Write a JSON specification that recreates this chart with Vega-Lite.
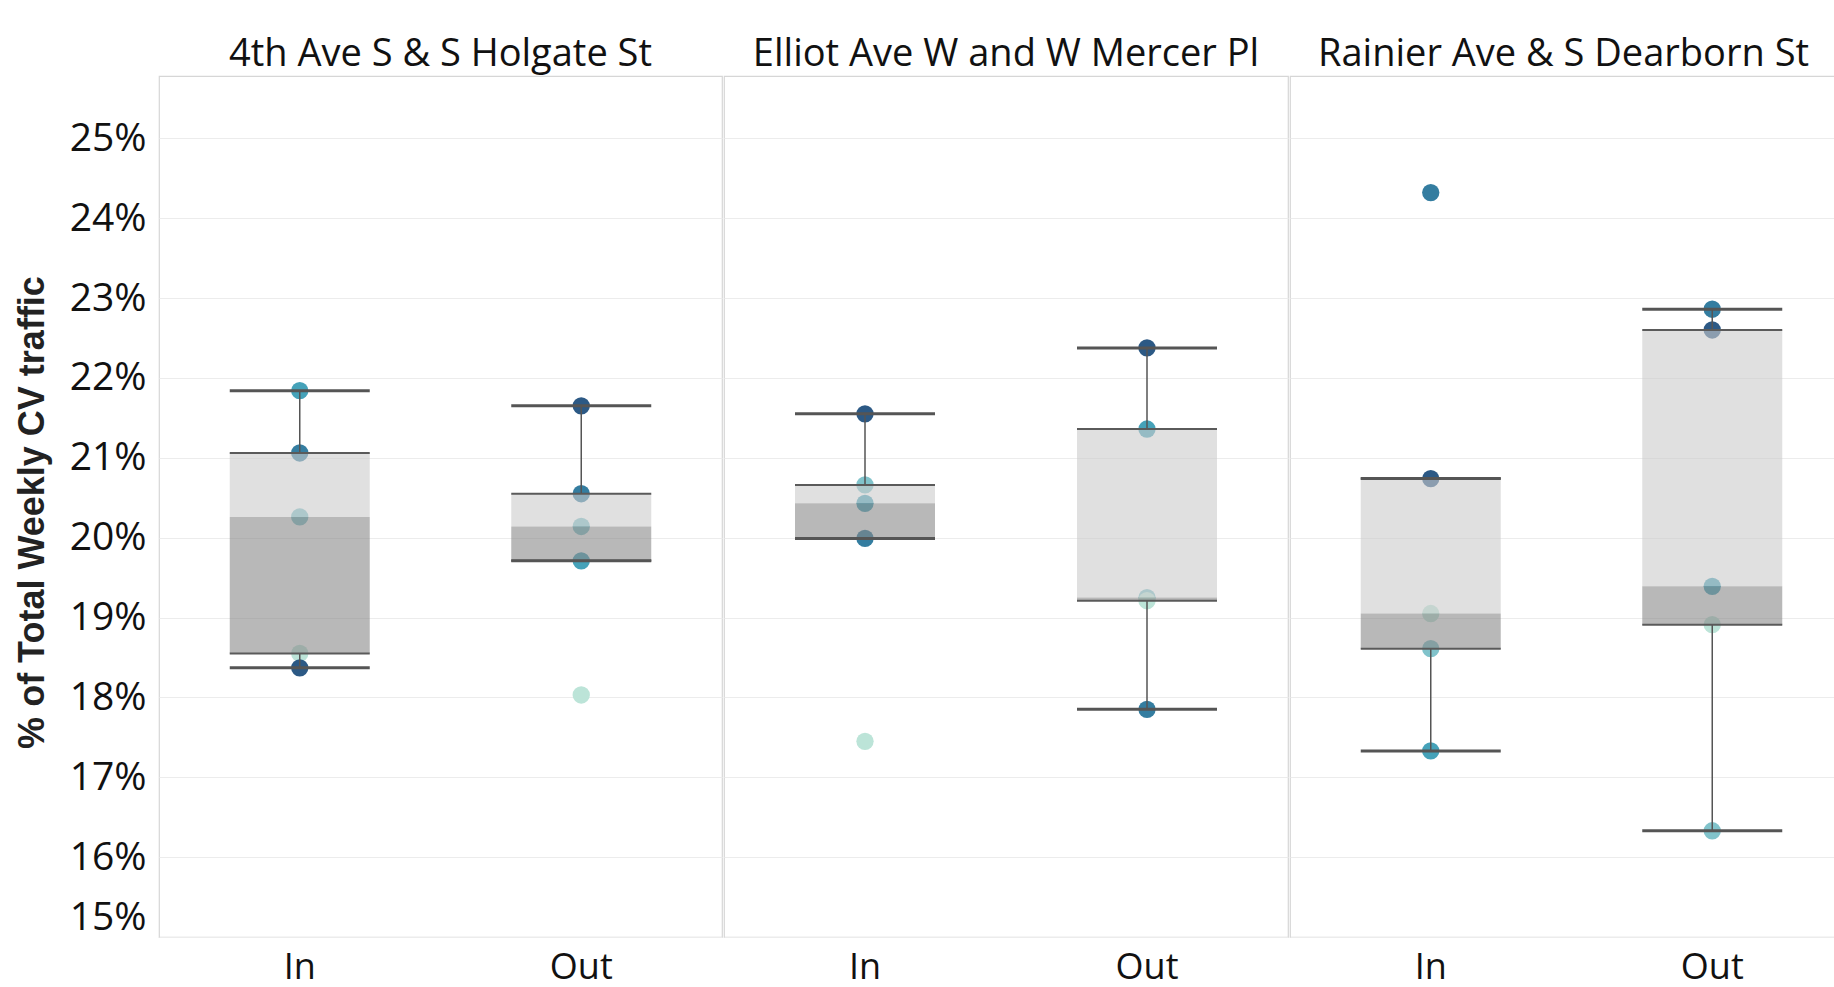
{
  "$schema": "https://vega.github.io/schema/vega-lite/v6.json",
  "background": "white",
  "padding": {"left": 13, "top": 35, "right": 0, "bottom": 0},
  "datasets": {
    "points": [
      {"site": "4th Ave S & S Holgate St", "dir": "In", "pct": 21.84, "week": 3},
      {"site": "4th Ave S & S Holgate St", "dir": "In", "pct": 21.06, "week": 4},
      {"site": "4th Ave S & S Holgate St", "dir": "In", "pct": 20.26, "week": 2},
      {"site": "4th Ave S & S Holgate St", "dir": "In", "pct": 18.55, "week": 1},
      {"site": "4th Ave S & S Holgate St", "dir": "In", "pct": 18.37, "week": 5},
      {"site": "4th Ave S & S Holgate St", "dir": "Out", "pct": 21.65, "week": 5},
      {"site": "4th Ave S & S Holgate St", "dir": "Out", "pct": 20.55, "week": 4},
      {"site": "4th Ave S & S Holgate St", "dir": "Out", "pct": 20.14, "week": 2},
      {"site": "4th Ave S & S Holgate St", "dir": "Out", "pct": 19.71, "week": 3},
      {"site": "4th Ave S & S Holgate St", "dir": "Out", "pct": 18.03, "week": 1},
      {"site": "Elliot Ave W and W Mercer Pl", "dir": "In", "pct": 21.55, "week": 5},
      {"site": "Elliot Ave W and W Mercer Pl", "dir": "In", "pct": 20.66, "week": 2},
      {"site": "Elliot Ave W and W Mercer Pl", "dir": "In", "pct": 20.43, "week": 3},
      {"site": "Elliot Ave W and W Mercer Pl", "dir": "In", "pct": 19.99, "week": 4},
      {"site": "Elliot Ave W and W Mercer Pl", "dir": "In", "pct": 17.45, "week": 1},
      {"site": "Elliot Ave W and W Mercer Pl", "dir": "Out", "pct": 22.375, "week": 5},
      {"site": "Elliot Ave W and W Mercer Pl", "dir": "Out", "pct": 21.36, "week": 3},
      {"site": "Elliot Ave W and W Mercer Pl", "dir": "Out", "pct": 19.25, "week": 2},
      {"site": "Elliot Ave W and W Mercer Pl", "dir": "Out", "pct": 19.21, "week": 1},
      {"site": "Elliot Ave W and W Mercer Pl", "dir": "Out", "pct": 17.85, "week": 4},
      {"site": "Rainier Ave & S Dearborn St", "dir": "In", "pct": 24.32, "week": 4},
      {"site": "Rainier Ave & S Dearborn St", "dir": "In", "pct": 20.74, "week": 5},
      {"site": "Rainier Ave & S Dearborn St", "dir": "In", "pct": 19.05, "week": 1},
      {"site": "Rainier Ave & S Dearborn St", "dir": "In", "pct": 18.61, "week": 2},
      {"site": "Rainier Ave & S Dearborn St", "dir": "In", "pct": 17.33, "week": 3},
      {"site": "Rainier Ave & S Dearborn St", "dir": "Out", "pct": 22.86, "week": 4},
      {"site": "Rainier Ave & S Dearborn St", "dir": "Out", "pct": 22.6, "week": 5},
      {"site": "Rainier Ave & S Dearborn St", "dir": "Out", "pct": 19.39, "week": 3},
      {"site": "Rainier Ave & S Dearborn St", "dir": "Out", "pct": 18.91, "week": 1},
      {"site": "Rainier Ave & S Dearborn St", "dir": "Out", "pct": 16.33, "week": 2}
    ],
    "boxes": [
      {"site": "4th Ave S & S Holgate St", "dir": "In", "lo": 18.37, "q1": 18.55, "med": 20.26, "q3": 21.06, "hi": 21.84},
      {"site": "4th Ave S & S Holgate St", "dir": "Out", "lo": 19.71, "q1": 19.71, "med": 20.14, "q3": 20.55, "hi": 21.65},
      {"site": "Elliot Ave W and W Mercer Pl", "dir": "In", "lo": 19.99, "q1": 19.99, "med": 20.43, "q3": 20.66, "hi": 21.55},
      {"site": "Elliot Ave W and W Mercer Pl", "dir": "Out", "lo": 17.85, "q1": 19.21, "med": 19.25, "q3": 21.36, "hi": 22.375},
      {"site": "Rainier Ave & S Dearborn St", "dir": "In", "lo": 17.33, "q1": 18.61, "med": 19.05, "q3": 20.74, "hi": 20.74},
      {"site": "Rainier Ave & S Dearborn St", "dir": "Out", "lo": 16.33, "q1": 18.91, "med": 19.39, "q3": 22.6, "hi": 22.86}
    ]
  },
  "config": {
    "font": "Open Sans",
    "view": {"stroke": "#d6d6d6", "strokeWidth": 1.2},
    "axisY": {
      "grid": true, "gridColor": "#ececec", "gridWidth": 1,
      "domain": false, "ticks": false, "tickCount": 11,
      "labelExpr": "datum.value + '%'",
      "labelFont": "Open Sans", "labelFontSize": 39, "labelColor": "#111",
      "labelPadding": 13, "labelFlush": true,
      "titleFont": "Liberation Sans", "titleFontSize": 36, "titleFontWeight": "bold", "titleColor": "#222",
      "titlePadding": 18
    },
    "axisX": {
      "grid": false, "domain": false, "ticks": false, "labelAngle": 0,
      "labelFont": "Open Sans", "labelFontSize": 36, "labelColor": "#111", "labelPadding": 13, "title": null
    },
    "title": {"font": "Open Sans", "fontSize": 38, "fontWeight": "normal", "color": "#111", "anchor": "middle", "offset": 2, "baseline": "alphabetic"}
  },
  "spacing": 0,
  "resolve": {"scale": {"x": "independent", "y": "independent"}},
  "hconcat": [
    {
      "width": 563, "height": 861,
      "title": "4th Ave S & S Holgate St",
      "encoding": {"x": {"field": "dir", "type": "nominal", "scale": {"domain": ["In", "Out"], "paddingInner": 0, "paddingOuter": 0}, "axis": {"title": null}}},
      "layer": [
        {"data": {"name": "points"}, "transform": [{"filter": "datum.site === '4th Ave S & S Holgate St'"}],
         "mark": {"type": "circle", "size": 300, "opacity": 1},
         "encoding": {
           "y": {"field": "pct", "type": "quantitative", "scale": {"domain": [15, 25.78], "nice": false, "zero": false}, "axis": {"title": "% of Total Weekly CV traffic", "titleY": 436}},
           "color": {"field": "week", "type": "quantitative", "scale": {"scheme": "tealblues", "domain": [1, 5]}, "legend": null}}},
        {"data": {"name": "boxes"}, "transform": [{"filter": "datum.site === '4th Ave S & S Holgate St'"}],
         "mark": {"type": "bar", "width": 140, "color": "#cbcbcb", "opacity": 0.6},
         "encoding": {"y": {"field": "q3", "type": "quantitative", "axis": {"title": "% of Total Weekly CV traffic", "titleY": 436}}, "y2": {"field": "med"}}},
        {"data": {"name": "boxes"}, "transform": [{"filter": "datum.site === '4th Ave S & S Holgate St'"}],
         "mark": {"type": "bar", "width": 140, "color": "#888888", "opacity": 0.6},
         "encoding": {"y": {"field": "med", "type": "quantitative", "axis": {"title": "% of Total Weekly CV traffic", "titleY": 436}}, "y2": {"field": "q1"}}},
        {"data": {"name": "boxes"}, "transform": [{"filter": "datum.site === '4th Ave S & S Holgate St'"}],
         "mark": {"type": "rule", "color": "#555555", "strokeWidth": 1.5},
         "encoding": {"y": {"field": "q3", "type": "quantitative", "axis": {"title": "% of Total Weekly CV traffic", "titleY": 436}}, "y2": {"field": "hi"}}},
        {"data": {"name": "boxes"}, "transform": [{"filter": "datum.site === '4th Ave S & S Holgate St'"}],
         "mark": {"type": "rule", "color": "#555555", "strokeWidth": 1.5},
         "encoding": {"y": {"field": "lo", "type": "quantitative", "axis": {"title": "% of Total Weekly CV traffic", "titleY": 436}}, "y2": {"field": "q1"}}},
        {"data": {"name": "boxes"}, "transform": [{"filter": "datum.site === '4th Ave S & S Holgate St'"}],
         "mark": {"type": "tick", "thickness": 2, "color": "#5a5a5a", "opacity": 1},
         "encoding": {"y": {"field": "q3", "type": "quantitative", "axis": {"title": "% of Total Weekly CV traffic", "titleY": 436}}, "size": {"value": 140}}},
        {"data": {"name": "boxes"}, "transform": [{"filter": "datum.site === '4th Ave S & S Holgate St'"}],
         "mark": {"type": "tick", "thickness": 2, "color": "#5a5a5a", "opacity": 1},
         "encoding": {"y": {"field": "q1", "type": "quantitative", "axis": {"title": "% of Total Weekly CV traffic", "titleY": 436}}, "size": {"value": 140}}},
        {"data": {"name": "boxes"}, "transform": [{"filter": "datum.site === '4th Ave S & S Holgate St'"}],
         "mark": {"type": "tick", "thickness": 3, "color": "#555555", "opacity": 1},
         "encoding": {"y": {"field": "hi", "type": "quantitative", "axis": {"title": "% of Total Weekly CV traffic", "titleY": 436}}, "size": {"value": 140}}},
        {"data": {"name": "boxes"}, "transform": [{"filter": "datum.site === '4th Ave S & S Holgate St'"}],
         "mark": {"type": "tick", "thickness": 3, "color": "#555555", "opacity": 1},
         "encoding": {"y": {"field": "lo", "type": "quantitative", "axis": {"title": "% of Total Weekly CV traffic", "titleY": 436}}, "size": {"value": 140}}}
      ]
    },
    {
      "width": 564, "height": 861,
      "title": "Elliot Ave W and W Mercer Pl",
      "encoding": {"x": {"field": "dir", "type": "nominal", "scale": {"domain": ["In", "Out"], "paddingInner": 0, "paddingOuter": 0}, "axis": {"title": null}}},
      "layer": [
        {"data": {"name": "points"}, "transform": [{"filter": "datum.site === 'Elliot Ave W and W Mercer Pl'"}],
         "mark": {"type": "circle", "size": 300, "opacity": 1},
         "encoding": {
           "y": {"field": "pct", "type": "quantitative", "scale": {"domain": [15, 25.78], "nice": false, "zero": false}, "axis": {"title": null, "labels": false, "minExtent": 0, "maxExtent": 0}},
           "color": {"field": "week", "type": "quantitative", "scale": {"scheme": "tealblues", "domain": [1, 5]}, "legend": null}}},
        {"data": {"name": "boxes"}, "transform": [{"filter": "datum.site === 'Elliot Ave W and W Mercer Pl'"}],
         "mark": {"type": "bar", "width": 140, "color": "#cbcbcb", "opacity": 0.6},
         "encoding": {"y": {"field": "q3", "type": "quantitative", "axis": {"title": null, "labels": false, "minExtent": 0, "maxExtent": 0}}, "y2": {"field": "med"}}},
        {"data": {"name": "boxes"}, "transform": [{"filter": "datum.site === 'Elliot Ave W and W Mercer Pl'"}],
         "mark": {"type": "bar", "width": 140, "color": "#888888", "opacity": 0.6},
         "encoding": {"y": {"field": "med", "type": "quantitative", "axis": {"title": null, "labels": false, "minExtent": 0, "maxExtent": 0}}, "y2": {"field": "q1"}}},
        {"data": {"name": "boxes"}, "transform": [{"filter": "datum.site === 'Elliot Ave W and W Mercer Pl'"}],
         "mark": {"type": "rule", "color": "#555555", "strokeWidth": 1.5},
         "encoding": {"y": {"field": "q3", "type": "quantitative", "axis": {"title": null, "labels": false, "minExtent": 0, "maxExtent": 0}}, "y2": {"field": "hi"}}},
        {"data": {"name": "boxes"}, "transform": [{"filter": "datum.site === 'Elliot Ave W and W Mercer Pl'"}],
         "mark": {"type": "rule", "color": "#555555", "strokeWidth": 1.5},
         "encoding": {"y": {"field": "lo", "type": "quantitative", "axis": {"title": null, "labels": false, "minExtent": 0, "maxExtent": 0}}, "y2": {"field": "q1"}}},
        {"data": {"name": "boxes"}, "transform": [{"filter": "datum.site === 'Elliot Ave W and W Mercer Pl'"}],
         "mark": {"type": "tick", "thickness": 2, "color": "#5a5a5a", "opacity": 1},
         "encoding": {"y": {"field": "q3", "type": "quantitative", "axis": {"title": null, "labels": false, "minExtent": 0, "maxExtent": 0}}, "size": {"value": 140}}},
        {"data": {"name": "boxes"}, "transform": [{"filter": "datum.site === 'Elliot Ave W and W Mercer Pl'"}],
         "mark": {"type": "tick", "thickness": 2, "color": "#5a5a5a", "opacity": 1},
         "encoding": {"y": {"field": "q1", "type": "quantitative", "axis": {"title": null, "labels": false, "minExtent": 0, "maxExtent": 0}}, "size": {"value": 140}}},
        {"data": {"name": "boxes"}, "transform": [{"filter": "datum.site === 'Elliot Ave W and W Mercer Pl'"}],
         "mark": {"type": "tick", "thickness": 3, "color": "#555555", "opacity": 1},
         "encoding": {"y": {"field": "hi", "type": "quantitative", "axis": {"title": null, "labels": false, "minExtent": 0, "maxExtent": 0}}, "size": {"value": 140}}},
        {"data": {"name": "boxes"}, "transform": [{"filter": "datum.site === 'Elliot Ave W and W Mercer Pl'"}],
         "mark": {"type": "tick", "thickness": 3, "color": "#555555", "opacity": 1},
         "encoding": {"y": {"field": "lo", "type": "quantitative", "axis": {"title": null, "labels": false, "minExtent": 0, "maxExtent": 0}}, "size": {"value": 140}}}
      ]
    },
    {
      "width": 547, "height": 861,
      "title": "Rainier Ave & S Dearborn St",
      "encoding": {"x": {"field": "dir", "type": "nominal", "scale": {"domain": ["In", "Out"], "range": [0, 563], "paddingInner": 0, "paddingOuter": 0}, "axis": {"title": null}}},
      "layer": [
        {"data": {"name": "points"}, "transform": [{"filter": "datum.site === 'Rainier Ave & S Dearborn St'"}],
         "mark": {"type": "circle", "size": 300, "opacity": 1},
         "encoding": {
           "y": {"field": "pct", "type": "quantitative", "scale": {"domain": [15, 25.78], "nice": false, "zero": false}, "axis": {"title": null, "labels": false, "minExtent": 0, "maxExtent": 0}},
           "color": {"field": "week", "type": "quantitative", "scale": {"scheme": "tealblues", "domain": [1, 5]}, "legend": null}}},
        {"data": {"name": "boxes"}, "transform": [{"filter": "datum.site === 'Rainier Ave & S Dearborn St'"}],
         "mark": {"type": "bar", "width": 140, "color": "#cbcbcb", "opacity": 0.6},
         "encoding": {"y": {"field": "q3", "type": "quantitative", "axis": {"title": null, "labels": false, "minExtent": 0, "maxExtent": 0}}, "y2": {"field": "med"}}},
        {"data": {"name": "boxes"}, "transform": [{"filter": "datum.site === 'Rainier Ave & S Dearborn St'"}],
         "mark": {"type": "bar", "width": 140, "color": "#888888", "opacity": 0.6},
         "encoding": {"y": {"field": "med", "type": "quantitative", "axis": {"title": null, "labels": false, "minExtent": 0, "maxExtent": 0}}, "y2": {"field": "q1"}}},
        {"data": {"name": "boxes"}, "transform": [{"filter": "datum.site === 'Rainier Ave & S Dearborn St'"}],
         "mark": {"type": "rule", "color": "#555555", "strokeWidth": 1.5},
         "encoding": {"y": {"field": "q3", "type": "quantitative", "axis": {"title": null, "labels": false, "minExtent": 0, "maxExtent": 0}}, "y2": {"field": "hi"}}},
        {"data": {"name": "boxes"}, "transform": [{"filter": "datum.site === 'Rainier Ave & S Dearborn St'"}],
         "mark": {"type": "rule", "color": "#555555", "strokeWidth": 1.5},
         "encoding": {"y": {"field": "lo", "type": "quantitative", "axis": {"title": null, "labels": false, "minExtent": 0, "maxExtent": 0}}, "y2": {"field": "q1"}}},
        {"data": {"name": "boxes"}, "transform": [{"filter": "datum.site === 'Rainier Ave & S Dearborn St'"}],
         "mark": {"type": "tick", "thickness": 2, "color": "#5a5a5a", "opacity": 1},
         "encoding": {"y": {"field": "q3", "type": "quantitative", "axis": {"title": null, "labels": false, "minExtent": 0, "maxExtent": 0}}, "size": {"value": 140}}},
        {"data": {"name": "boxes"}, "transform": [{"filter": "datum.site === 'Rainier Ave & S Dearborn St'"}],
         "mark": {"type": "tick", "thickness": 2, "color": "#5a5a5a", "opacity": 1},
         "encoding": {"y": {"field": "q1", "type": "quantitative", "axis": {"title": null, "labels": false, "minExtent": 0, "maxExtent": 0}}, "size": {"value": 140}}},
        {"data": {"name": "boxes"}, "transform": [{"filter": "datum.site === 'Rainier Ave & S Dearborn St'"}],
         "mark": {"type": "tick", "thickness": 3, "color": "#555555", "opacity": 1},
         "encoding": {"y": {"field": "hi", "type": "quantitative", "axis": {"title": null, "labels": false, "minExtent": 0, "maxExtent": 0}}, "size": {"value": 140}}},
        {"data": {"name": "boxes"}, "transform": [{"filter": "datum.site === 'Rainier Ave & S Dearborn St'"}],
         "mark": {"type": "tick", "thickness": 3, "color": "#555555", "opacity": 1},
         "encoding": {"y": {"field": "lo", "type": "quantitative", "axis": {"title": null, "labels": false, "minExtent": 0, "maxExtent": 0}}, "size": {"value": 140}}}
      ]
    }
  ]
}
